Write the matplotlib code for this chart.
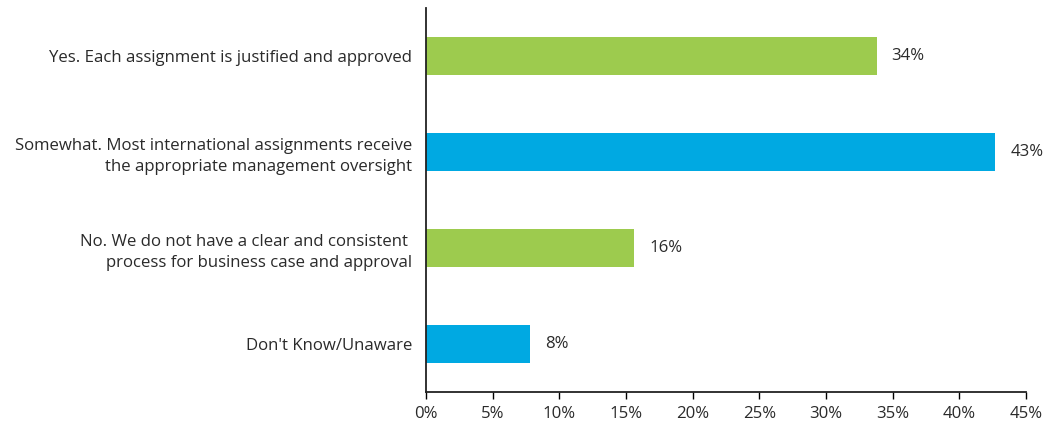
import matplotlib
matplotlib.use("Agg")
import matplotlib.pyplot as plt
from matplotlib.ticker import FuncFormatter, MultipleLocator
from matplotlib.transforms import offset_copy

categories = [
    "Yes. Each assignment is justified and approved",
    "Somewhat. Most international assignments receive\nthe appropriate management oversight",
    "No. We do not have a clear and consistent \nprocess for business case and approval",
    "Don't Know/Unaware",
]
values = [33.8, 42.7, 15.6, 7.8]
value_labels = ["34%", "43%", "16%", "8%"]
colors = ["#9DCB4E", "#00A9E2", "#9DCB4E", "#00A9E2"]

plt.rcParams['font.family'] = ['Open Sans', 'DejaVu Sans']
text_color = "#2a2a2a"
fs = 12.1

fig = plt.figure(figsize=(10.51, 4.21), dpi=100)
ax = fig.add_axes([426/1051, 1-392/421, 600/1051, 384/421])

pos = list(range(len(categories)))
ax.barh(pos, values, height=0.4, color=colors)
ax.set_ylim(3.5, -0.5)
ax.set_xlim(0, 45)
ax.xaxis.set_major_locator(MultipleLocator(5))
ax.xaxis.set_major_formatter(FuncFormatter(lambda v, p: f"{int(round(v))}%"))
ax.set_yticks(pos)
ax.set_yticklabels(categories, fontsize=fs, color=text_color, linespacing=1.45)
ax.tick_params(axis='y', length=0, pad=10)
ax.tick_params(axis='x', length=5, width=1, labelsize=fs, labelcolor=text_color, pad=5, direction='out')

for s in ['top', 'right']:
    ax.spines[s].set_visible(False)
for s in ['left', 'bottom']:
    ax.spines[s].set_linewidth(1.3)
    ax.spines[s].set_color('#222222')

trans = offset_copy(ax.transData, fig=fig, x=15, y=0, units='dots')
for p, v, lab in zip(pos, values, value_labels):
    ax.text(v, p, lab, transform=trans, va='center', ha='left', fontsize=fs, color=text_color)

fig.savefig("out.png", dpi=100)
